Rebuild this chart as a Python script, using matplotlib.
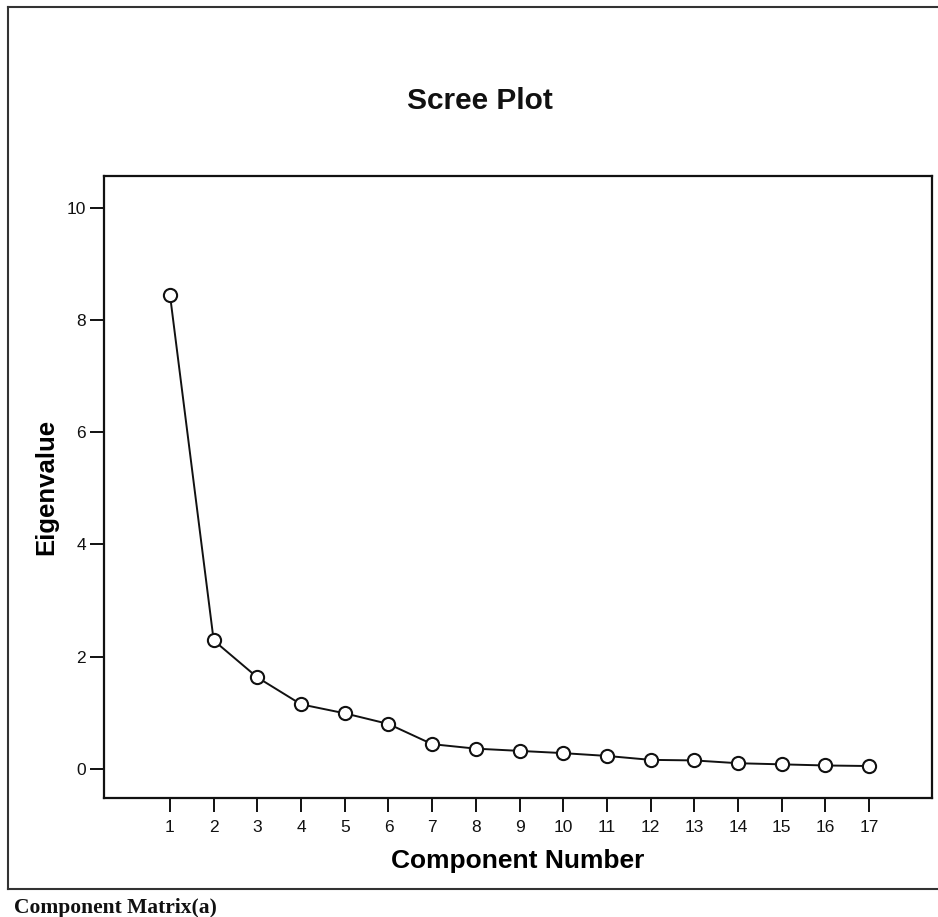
import matplotlib.pyplot as plt
from matplotlib.lines import Line2D

# eigenvalues
components = list(range(1, 18))
eigenvalues = [8.45, 2.29, 1.63, 1.15, 0.99, 0.80, 0.44, 0.36, 0.32,
               0.28, 0.23, 0.16, 0.15, 0.10, 0.08, 0.06, 0.05]
yticks = [0, 2, 4, 6, 8, 10]

plt.rcParams['font.family'] = ['Liberation Sans', 'DejaVu Sans']

W, H = 938, 917
fig = plt.figure(figsize=(W / 100, H / 100), dpi=100)
ax = fig.add_axes([104 / W, 1 - 798 / H, (932 - 104) / W, (798 - 176) / H])

ax.plot(components, eigenvalues, color='#111111', lw=1.4,
        marker='o', ms=9.5, mfc='white', mec='#111111', mew=1.5)

ax.set_xlim(-0.51, 18.44)
ax.set_ylim(-0.52, 10.57)
ax.set_xticks(components)
ax.set_yticks(yticks)
ax.tick_params(axis='both', direction='out', length=10, width=1.4,
               labelsize=12.5, colors='#111111')
ax.tick_params(axis='x', pad=6)
ax.tick_params(axis='y', pad=3)
for s in ax.spines.values():
    s.set_linewidth(1.6)
    s.set_color('#111111')

ax.set_xlabel('Component Number', fontsize=19, fontweight='bold', labelpad=10)
ax.set_ylabel('Eigenvalue', fontsize=18.5, fontweight='bold', labelpad=6)

fig.text(480 / W, 1 - 101 / H, 'Scree Plot', fontsize=21.5, fontweight='bold',
         ha='center', va='center', color='#111111')

# outer frame (top, left, bottom)
def px(x, y):
    return x / W, 1 - y / H

for (x0, y0), (x1, y1) in [((8, 7), (938, 7)), ((8, 7), (8, 889)), ((8, 889), (938, 889))]:
    a, b = px(x0, y0)
    c, d = px(x1, y1)
    fig.add_artist(Line2D([a, c], [b, d], color='#333333', lw=1.5))

fig.text(14 / W, 1 - 908 / H, 'Component Matrix(a)', fontsize=15.5,
         fontweight='bold', family=['Liberation Serif', 'DejaVu Serif'],
         ha='left', va='center', color='#111111')

fig.savefig('out.png', dpi=100)
